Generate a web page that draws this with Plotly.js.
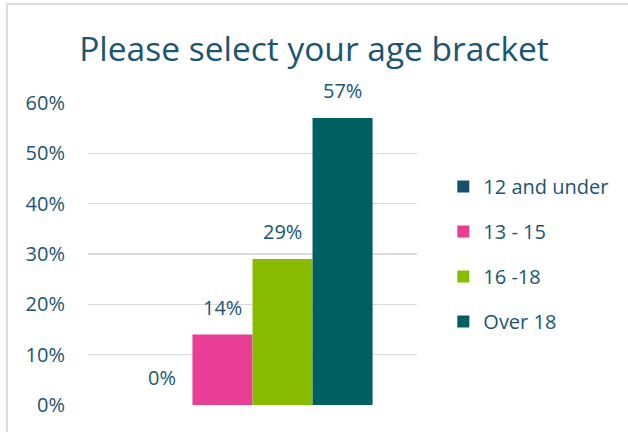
<!DOCTYPE html>
<html><head><meta charset="utf-8">
<script src="https://cdn.plot.ly/plotly-3.0.1.min.js"></script>
<style>
body{margin:0;background:#fff;}
#frame{position:absolute;left:6px;top:3px;width:700px;height:500px;border:2px solid #DCDCDC;}
#chart{position:absolute;left:0;top:0;width:628px;height:432px;}
</style></head>
<body>
<div id="frame"></div>
<div id="chart"></div>
<script>
const category = ["Age"];
const seriesNames = ["12 and under", "13 - 15", "16 -18", "Over 18"];
const seriesValues = [0, 0.14, 0.29, 0.57];
const seriesLabels = ["0%", "14%", "29%", "57%"];
const seriesColors = ["#17506E", "#E83E96", "#87BC00", "#005F60"];
const tickValues = [0, 0.1, 0.2, 0.3, 0.4, 0.5, 0.6];
const tickLabels = ["0%", "10%", "20%", "30%", "40%", "50%", "60%"];
const labelColor = "#1A5672";
const FONT = "Open Sans";

const traces = seriesNames.map((name, i) => ({
  type: "bar",
  name: name,
  x: category,
  y: [seriesValues[i]],
  marker: {color: seriesColors[i]},
  textposition: "none",
  legendgroup: "g" + i,
  hoverinfo: "skip"
}));

const layout = {
  width: 628, height: 432,
  paper_bgcolor: "rgba(0,0,0,0)",
  plot_bgcolor: "rgba(0,0,0,0)",
  margin: {l: 88, r: 211, t: 103, b: 27},
  title: {text: "Please select your age bracket", font: {family: FONT, size: 33.5, color: labelColor}, x: 0.5, xanchor: "center", xref: "container", y: 0.885, yanchor: "middle"},
  font: {family: FONT, color: labelColor},
  barmode: "group",
  bargap: 0.27,
  bargroupgap: 0,
  xaxis: {showticklabels: false, showgrid: false, zeroline: false, showline: false, ticks: ""},
  yaxis: {range: [0, 0.6], tickvals: tickValues, ticktext: tickLabels,
          showgrid: true, gridcolor: "#D9D9D9", gridwidth: 1.5, zeroline: false, showline: false,
          tickfont: {size: 20, color: labelColor, family: FONT}, ticklen: 0, ticklabelstandoff: 22},
  legend: {x: 1.08, xanchor: "left", xref: "paper", y: 0.5, yanchor: "middle", traceorder: "grouped", tracegroupgap: 16,
           font: {size: 20, color: labelColor, family: FONT}, itemwidth: 30},
  showlegend: true
};

const gd = document.getElementById("chart");
Plotly.newPlot(gd, traces, layout, {displayModeBar: false, staticPlot: true}).then(() => {
  // place value labels above each bar, using the bar centres computed by Plotly
  const annotations = gd.calcdata.map((cd, i) => ({
    x: cd[0].x !== undefined ? cd[0].x : cd[0].p,
    y: seriesValues[i],
    xref: "x", yref: "y",
    text: seriesLabels[i],
    showarrow: false,
    xanchor: "center", yanchor: "bottom",
    yshift: 12,
    font: {size: 20, color: labelColor, family: FONT}
  }));
  return Plotly.relayout(gd, {annotations: annotations});
});
</script>
</body></html>
